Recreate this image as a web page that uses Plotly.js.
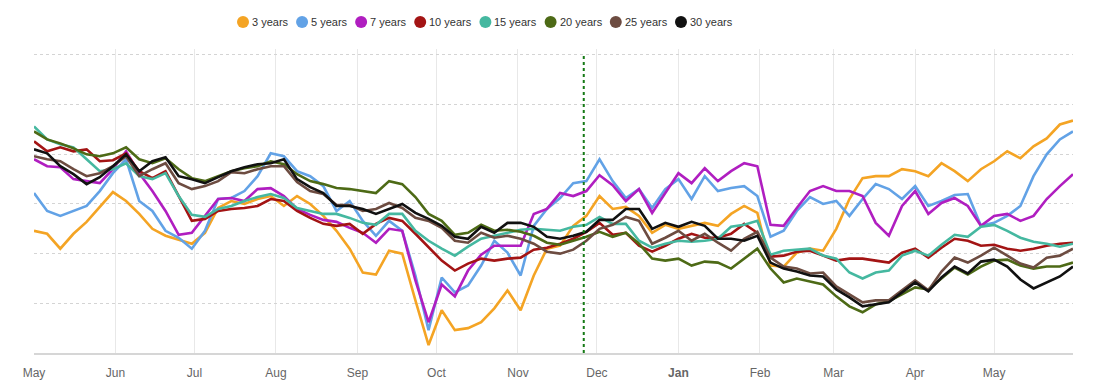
<!DOCTYPE html>
<html><head><meta charset="utf-8">
<script src="https://cdn.plot.ly/plotly-3.0.1.min.js"></script>
<style>html,body{margin:0;padding:0;background:#fff}#chart{width:1094px;height:385px}</style>
</head><body><div id="chart"></div>
<script>
const dates = ['2022-05-01','2022-05-06','2022-05-11','2022-05-16','2022-05-21','2022-05-26','2022-05-31',
'2022-06-05','2022-06-10','2022-06-15','2022-06-20','2022-06-25','2022-06-30',
'2022-07-05','2022-07-10','2022-07-15','2022-07-20','2022-07-25','2022-07-30',
'2022-08-04','2022-08-09','2022-08-14','2022-08-19','2022-08-24','2022-08-29',
'2022-09-03','2022-09-08','2022-09-13','2022-09-18','2022-09-23','2022-09-28',
'2022-10-03','2022-10-08','2022-10-13','2022-10-18','2022-10-23','2022-10-28',
'2022-11-02','2022-11-07','2022-11-12','2022-11-17','2022-11-22','2022-11-27',
'2022-12-02','2022-12-07','2022-12-12','2022-12-17','2022-12-22','2022-12-27',
'2023-01-01','2023-01-06','2023-01-11','2023-01-16','2023-01-21','2023-01-26','2023-01-31',
'2023-02-05','2023-02-10','2023-02-15','2023-02-20','2023-02-25',
'2023-03-02','2023-03-07','2023-03-12','2023-03-17','2023-03-22','2023-03-27',
'2023-04-01','2023-04-06','2023-04-11','2023-04-16','2023-04-21','2023-04-26',
'2023-05-01','2023-05-06','2023-05-11','2023-05-16','2023-05-21','2023-05-26','2023-05-31'];

const seriesNames = ['3 years','5 years','7 years','10 years','15 years','20 years','25 years','30 years'];
const seriesColors = ['#f4a424','#62a2e6','#b01ec0','#a31414','#45b8a0','#4d6a16','#6d4c41','#111111'];

const y3 = [12.3,12.0,10.5,12.0,13.2,14.7,16.2,15.3,14.0,12.5,11.8,11.4,11.0,12.1,14.6,15.3,15.0,15.5,15.8,14.8,
15.8,15.0,13.8,12.3,10.5,8.1,7.9,10.3,10.0,5.3,0.8,4.3,2.3,2.5,3.1,4.5,6.3,4.3,7.8,10.5,
10.8,12.8,13.8,15.8,14.5,14.7,13.8,12.1,12.9,12.5,12.8,13.1,12.8,14.0,14.8,14.1,8.8,8.7,10.1,10.5,
10.3,12.5,15.5,17.6,17.8,17.8,18.5,18.3,17.8,19.1,18.3,17.3,18.5,19.3,20.3,19.6,20.8,21.6,23.0,23.4];
const y5 = [16.1,14.3,13.8,14.3,14.8,16.3,18.1,19.5,15.3,14.3,12.3,11.6,10.5,12.3,15.5,15.6,16.3,17.8,20.1,19.8,
18.3,17.8,16.8,14.3,15.3,13.3,11.8,13.3,12.3,7.8,2.3,7.6,6.1,6.8,8.8,11.3,10.1,7.8,12.8,14.5,
15.6,17.1,17.3,19.5,17.3,15.6,16.5,14.6,16.5,17.5,15.5,17.8,16.3,16.6,16.8,15.8,11.7,12.3,14.3,15.7,
15.0,15.3,13.8,15.5,17.0,16.5,15.5,16.8,14.8,15.3,15.9,16.0,12.8,13.1,13.8,14.8,17.8,20.0,21.5,22.3];
const y7 = [19.5,18.8,18.7,17.5,17.3,17.1,18.5,20.3,18.1,16.3,14.3,11.9,12.1,13.8,15.5,15.6,15.3,16.5,16.6,15.8,
14.5,13.9,13.4,13.2,12.6,12.1,11.1,12.5,12.3,7.3,3.1,6.9,5.7,8.3,9.9,10.8,10.8,10.8,14.0,14.5,
16.1,15.8,16.3,17.9,16.9,15.3,16.5,14.1,16.1,18.1,17.1,18.6,17.3,18.3,19.1,18.8,12.9,12.8,14.6,16.3,
16.8,16.3,16.3,15.8,13.1,11.8,14.8,16.3,14.0,15.1,15.6,14.8,12.8,13.8,14.0,13.3,13.8,15.5,16.8,18.0];
const y10 = [21.3,20.3,20.7,20.3,20.5,19.3,19.4,20.1,18.3,17.6,18.3,15.8,13.3,13.5,14.3,14.5,14.6,14.8,15.5,15.3,
14.3,13.6,13.0,12.8,13.0,12.0,13.0,13.6,13.3,12.0,10.6,9.3,8.3,9.0,9.5,9.3,9.5,9.6,10.4,10.6,
11.0,11.5,12.2,13.1,11.9,12.1,10.8,10.2,10.8,11.5,12.0,11.6,11.6,12.0,13.0,12.1,9.7,9.8,10.2,10.3,
9.8,9.3,9.5,9.5,9.3,9.1,10.1,10.5,9.6,10.6,11.5,11.3,10.8,10.9,10.5,10.3,10.5,10.8,11.0,11.1];
const y15 = [22.8,21.5,21.0,20.7,19.5,18.3,18.5,19.1,17.8,17.5,18.1,15.8,13.9,13.7,14.5,14.8,15.3,15.7,16.0,15.6,
14.6,14.3,14.0,14.0,13.6,13.1,12.9,14.0,14.0,12.3,11.3,10.5,9.8,10.7,11.5,11.8,12.1,12.4,12.5,12.4,
12.3,12.7,12.9,13.7,13.0,13.0,11.3,10.6,11.0,11.3,11.2,11.3,11.5,12.7,12.9,13.3,9.9,10.3,10.4,10.5,
9.8,9.5,8.1,7.5,8.1,8.3,9.8,10.3,9.8,10.9,11.9,11.7,12.7,12.9,12.3,11.6,11.2,11.0,10.7,11.0];
const y20 = [22.3,21.5,21.1,20.6,20.0,19.8,20.1,20.7,19.5,19.1,19.6,18.5,17.6,17.3,17.8,18.3,18.6,18.8,19.3,19.0,
18.0,17.3,17.0,16.6,16.5,16.3,16.1,17.3,17.0,15.7,14.0,13.3,11.9,12.1,12.9,12.3,12.4,12.2,11.8,11.1,
10.9,11.3,11.7,12.2,11.7,12.1,11.0,9.5,9.3,9.5,8.8,9.2,9.1,8.5,9.5,10.5,8.5,7.1,7.5,7.2,
6.9,5.7,4.7,4.1,4.9,5.2,5.9,6.6,6.4,7.5,8.6,7.9,8.7,9.3,9.4,8.8,8.5,8.7,8.7,9.1];
const y25 = [19.8,19.5,19.3,18.5,17.8,18.1,18.8,19.8,17.8,18.5,19.1,17.1,16.5,16.8,17.3,18.2,18.1,18.5,18.8,18.8,
17.2,16.3,16.0,14.9,14.9,14.3,14.5,15.1,14.6,13.6,13.3,12.6,11.3,11.1,12.1,11.6,11.8,11.5,11.0,10.2,
10.0,10.4,11.3,12.5,12.9,13.7,13.3,11.0,11.6,12.3,11.3,12.0,11.1,10.3,11.5,12.2,9.6,8.7,8.5,8.0,
8.1,6.7,5.9,5.1,5.3,5.3,6.3,7.3,6.3,8.2,9.6,9.1,9.8,10.6,9.8,9.0,8.6,9.6,9.8,10.5];
const y30 = [20.5,20.1,18.8,18.0,17.0,17.7,18.8,20.0,18.3,19.3,19.7,17.8,17.5,17.1,17.7,18.3,18.7,19.0,19.1,19.5,
17.5,16.7,16.1,14.8,14.8,14.5,14.0,14.5,15.0,14.1,13.5,12.8,11.7,11.5,12.7,12.1,13.1,13.1,12.7,11.7,
11.5,11.8,12.2,13.4,13.4,14.5,14.5,12.5,13.1,12.7,13.2,12.8,11.5,11.5,11.3,11.8,9.1,8.5,8.2,7.8,
7.7,6.4,5.6,4.7,4.9,5.1,6.1,7.1,6.2,7.6,8.7,8.0,9.2,9.4,8.7,7.4,6.5,7.1,7.7,8.7];

const monthTicks = ['2022-05-01','2022-06-01','2022-07-01','2022-08-01','2022-09-01','2022-10-01','2022-11-01',
'2022-12-01','2023-01-01','2023-02-01','2023-03-01','2023-04-01','2023-05-01'];
const monthLabels = ['May','Jun','Jul','Aug','Sep','Oct','Nov','Dec','<b>Jan</b>','Feb','Mar','Apr','May'];
const markerDate = '2022-11-26';

const seriesValues = [y3,y5,y7,y10,y15,y20,y25,y30];

const W = 1094, H = 385;
const margin = {l: 34, r: 21, t: 49, b: 32};
const plotW = W - margin.l - margin.r, plotH = H - margin.t - margin.b;

const traces = seriesValues.map((vals, i) => ({
  type: 'scatter', mode: 'lines', name: seriesNames[i],
  x: dates, y: vals,
  line: {color: seriesColors[i], width: 2.6},
  showlegend: false,
  hovertemplate: '%{x|%d %b %Y}: %{y}<extra>' + seriesNames[i] + '</extra>'
}));

// Compact legend row (circle + label), laid out from measured label widths
const legendFont = 11;
const ctx = document.createElement('canvas').getContext('2d');
ctx.font = legendFont + 'px "Liberation Sans", Arial, sans-serif';
const legendPaperY = (H - 22 - margin.b) / plotH;   // row centred 22px below the top edge
const shapes = [{
  type: 'line', xref: 'x', yref: 'y', x0: markerDate, x1: markerDate, y0: 0, y1: 30,
  line: {color: '#157a15', width: 2, dash: 'dot'}
}];
const annotations = [];
let cursor = 237;
seriesNames.forEach((n, i) => {
  const cx = cursor + 6;
  shapes.push({
    type: 'circle', xref: 'paper', yref: 'paper', xsizemode: 'pixel', ysizemode: 'pixel',
    xanchor: (cx - margin.l) / plotW, yanchor: legendPaperY,
    x0: -6, x1: 6, y0: -6, y1: 6,
    fillcolor: seriesColors[i], line: {width: 0}
  });
  const tx = cx + 8;
  annotations.push({
    xref: 'paper', yref: 'paper', x: (tx - margin.l) / plotW, y: legendPaperY,
    xanchor: 'left', yanchor: 'middle', showarrow: false, borderpad: 0,
    text: n, font: {size: legendFont, color: '#333'}
  });
  cursor = tx + ctx.measureText(n).width + 9;
});

const layout = {
  width: W, height: H,
  margin: margin,
  paper_bgcolor: '#ffffff', plot_bgcolor: '#ffffff',
  font: {family: '"Liberation Sans", Arial, sans-serif', size: 12, color: '#333'},
  showlegend: false,
  hovermode: 'x',
  xaxis: {
    type: 'date', range: ['2022-05-01', '2023-05-31'],
    tickmode: 'array', tickvals: monthTicks, ticktext: monthLabels,
    showgrid: true, gridcolor: '#e8e8e8', gridwidth: 1,
    showline: true, linecolor: '#d6d6d6', linewidth: 2,
    zeroline: false, ticks: '', ticklabelstandoff: 8,
    tickfont: {size: 12, color: '#666'}
  },
  yaxis: {
    range: [0, 30.6], tick0: 0, dtick: 5,
    showticklabels: false, showgrid: true, gridcolor: '#d4d4d4', griddash: 'dot', gridwidth: 1,
    zeroline: false, showline: false
  },
  shapes: shapes,
  annotations: annotations
};

Plotly.newPlot('chart', traces, layout, {displayModeBar: false, responsive: false});
</script>
</body></html>
